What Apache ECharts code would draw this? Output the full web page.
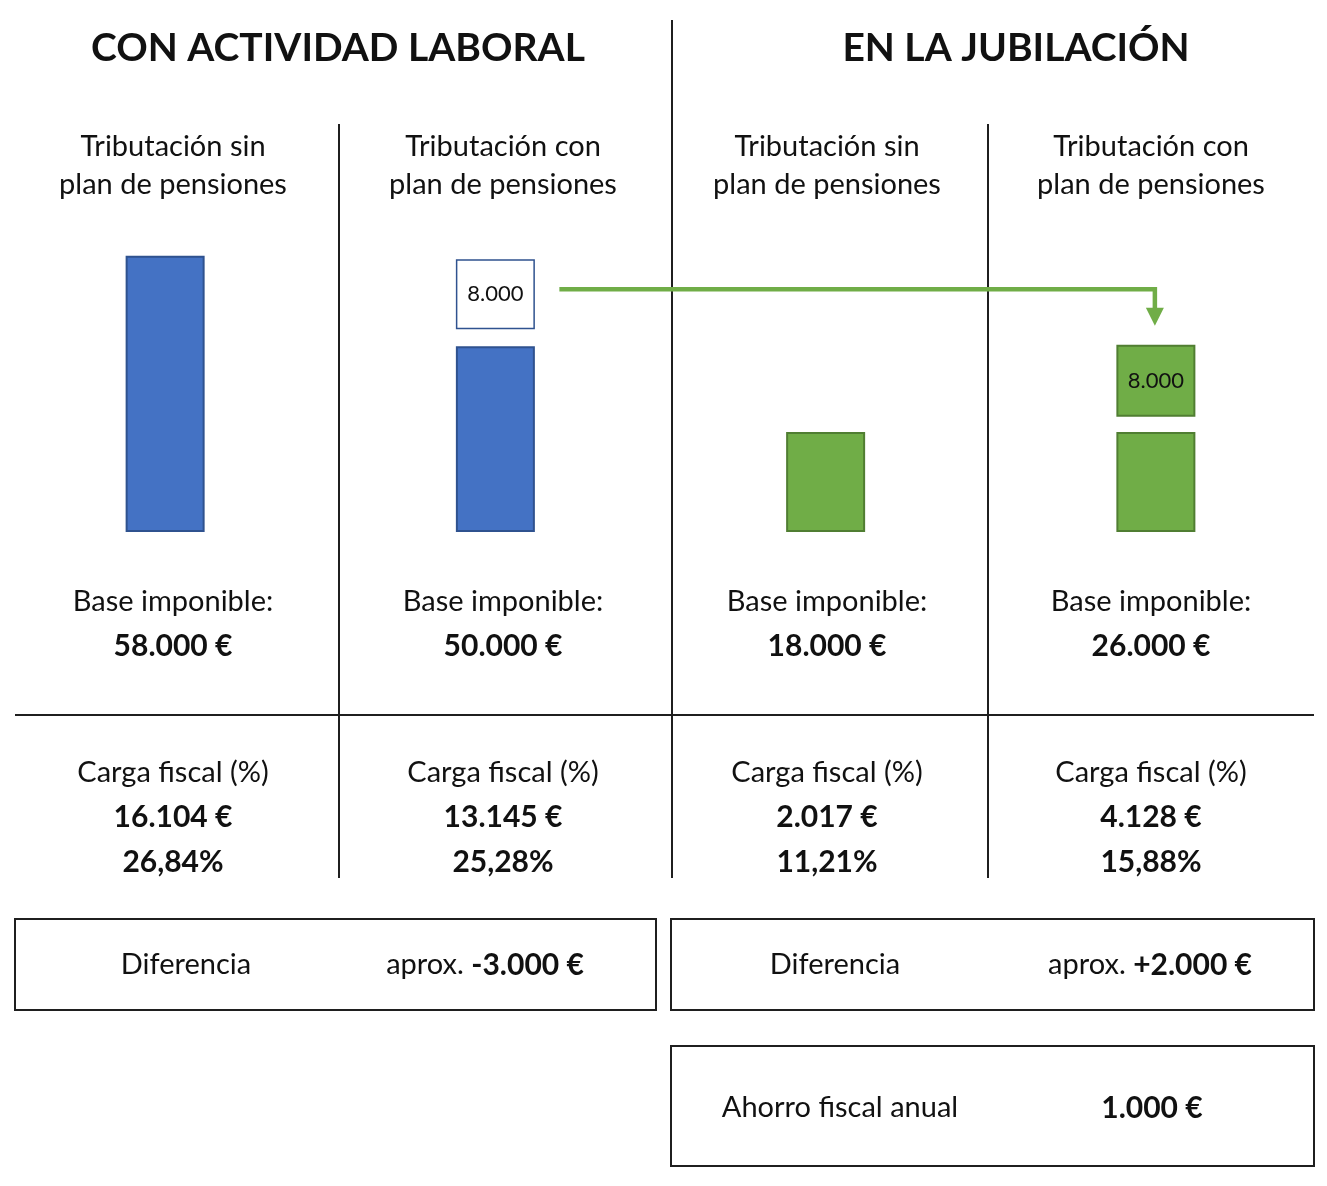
<!DOCTYPE html>
<html lang="es">
<head>
    <meta charset="UTF-8">
    <title>Tributación con y sin plan de pensiones</title>
    <style>
        html, body { margin: 0; padding: 0; background: #ffffff; }
        #main { width: 1327px; height: 1186px; }
    </style>
</head>
<body>
<div id="main"></div>
<script src="https://cdn.jsdelivr.net/npm/echarts@6/dist/echarts.min.js"></script>
<script>
    // datos
    var columnas = ['actividad_sin', 'actividad_con', 'jubilacion_sin', 'jubilacion_con'];
    var titulosColumna = [
        ['Tributación sin', 'plan de pensiones'],
        ['Tributación con', 'plan de pensiones'],
        ['Tributación sin', 'plan de pensiones'],
        ['Tributación con', 'plan de pensiones']
    ];
    var baseImponible = ['58.000 €', '50.000 €', '18.000 €', '26.000 €'];
    var cargaEuros = ['16.104 €', '13.145 €', '2.017 €', '4.128 €'];
    var cargaPct = ['26,84%', '25,28%', '11,21%', '15,88%'];
    var diferencias = ['-3.000 €', '+2.000 €'];
    var ahorroAnual = '1.000 €';
    var aportacionPlan = '8.000';
    // alturas de las barras tal como se ven en el dibujo (unidades relativas)
    var alturaBase = [58, 39, 21, 21];
    var alturaHueco = [0, 3.6, 0, 3.2];
    var alturaPlan = [0, 14.7, 0, 15.1];

    var AZUL = '#4472C4', AZUL_BORDE = '#2F528F';
    var VERDE = '#70AD47', VERDE_BORDE = '#507E32';
    var LINEA = '#1f1f1f';
    var FUENTE = 'Lato, "Noto Sans", sans-serif';
    var T = 29, TB = 30;   // tamaño del texto normal / negrita

    var textoX = [173, 503, 827, 1151];

    function txt(x, y, s, size, bold, align) {
        return {
            type: 'text', silent: true,
            style: {
                text: s, x: x, y: y,
                textAlign: align || 'center', textVerticalAlign: 'middle',
                fontFamily: FUENTE, fontSize: size, fontWeight: bold ? 'bold' : 'normal',
                fill: '#111'
            }
        };
    }
    function linea(x1, y1, x2, y2) {
        return {
            type: 'line', silent: true,
            shape: {x1: x1, y1: y1, x2: x2, y2: y2},
            style: {stroke: LINEA, lineWidth: 2}
        };
    }
    function caja(x, y, w, h) {
        return {
            type: 'rect', silent: true,
            shape: {x: x, y: y, width: w, height: h},
            style: {fill: 'none', stroke: LINEA, lineWidth: 2}
        };
    }

    var colores = [AZUL, AZUL, VERDE, VERDE];
    var bordes = [AZUL_BORDE, AZUL_BORDE, VERDE_BORDE, VERDE_BORDE];

    option = {
        backgroundColor: '#ffffff',
        animation: false,
        grid: {left: 0, right: 6, top: 232, bottom: 654},
        xAxis: {
            type: 'category', data: columnas, show: false
        },
        yAxis: {
            type: 'value', min: 0, max: 63, show: false
        },
        series: [
            {
                name: 'base', type: 'bar', stack: 'total', barWidth: 79,
                data: alturaBase.map(function (v, i) {
                    return {value: v, itemStyle: {color: colores[i], borderColor: bordes[i], borderWidth: 2}};
                })
            },
            {
                name: 'hueco', type: 'bar', stack: 'total', barWidth: 79,
                itemStyle: {color: 'transparent'},
                data: alturaHueco
            },
            {
                name: 'plan', type: 'bar', stack: 'total', barWidth: 79,
                data: alturaPlan.map(function (v, i) {
                    if (!v) return {value: 0, itemStyle: {color: 'transparent'}};
                    var jub = i >= 2;
                    return {
                        value: v,
                        itemStyle: {
                            color: jub ? VERDE : '#ffffff',
                            borderColor: jub ? VERDE_BORDE : AZUL_BORDE,
                            borderWidth: jub ? 2 : 1.5
                        },
                        label: {
                            show: true, position: 'inside', formatter: aportacionPlan,
                            fontFamily: FUENTE, fontSize: 22, color: '#111'
                        }
                    };
                })
            }
        ]
    };

    var myChart = echarts.init(document.getElementById('main'));
    myChart.setOption(option);

    // flecha verde desde la aportación hasta la jubilación
    var pIni = myChart.convertToPixel({xAxisIndex: 0, yAxisIndex: 0},
        [columnas[1], alturaBase[1] + alturaHueco[1] + alturaPlan[1] * 0.57]);
    var pFin = myChart.convertToPixel({xAxisIndex: 0, yAxisIndex: 0},
        [columnas[3], alturaBase[3] + alturaHueco[3] + alturaPlan[3]]);
    var xIni = pIni[0] + 64, yFl = pIni[1];
    var xFin = pFin[0] - 1, yPunta = pFin[1] - 19;

    var g = [];
    g.push(txt(338, 48, 'CON ACTIVIDAD LABORAL', 39, true));
    g.push(txt(1016, 48, 'EN LA JUBILACIÓN', 39, true));
    for (var i = 0; i < 4; i++) {
        g.push(txt(textoX[i], 147, titulosColumna[i][0], T));
        g.push(txt(textoX[i], 185, titulosColumna[i][1], T));
        g.push(txt(textoX[i], 602, 'Base imponible:', T));
        g.push(txt(textoX[i], 646, baseImponible[i], TB, true));
        g.push(txt(textoX[i], 773, 'Carga fiscal (%)', T));
        g.push(txt(textoX[i], 817, cargaEuros[i], TB, true));
        g.push(txt(textoX[i], 862, cargaPct[i], TB, true));
    }
    g.push(linea(672, 20, 672, 878));
    g.push(linea(339, 124, 339, 878));
    g.push(linea(988, 124, 988, 878));
    g.push(linea(15, 715, 1314, 715));

    g.push(caja(15, 919, 641, 91));
    g.push(caja(671, 919, 643, 91));
    g.push(caja(671, 1046, 643, 120));

    var ricoDif = function (x, valor) {
        return {
            type: 'text', silent: true,
            style: {
                text: '{n|aprox. }{b|' + valor + '}', x: x, y: 965,
                textAlign: 'center', textVerticalAlign: 'middle',
                rich: {
                    n: {fontFamily: FUENTE, fontSize: T, fill: '#111', color: '#111'},
                    b: {fontFamily: FUENTE, fontSize: TB, fontWeight: 'bold', fill: '#111', color: '#111'}
                }
            }
        };
    };
    g.push(txt(186, 965, 'Diferencia', T));
    g.push(ricoDif(485, diferencias[0]));
    g.push(txt(835, 965, 'Diferencia', T));
    g.push(ricoDif(1150, diferencias[1]));
    g.push(txt(840, 1108, 'Ahorro fiscal anual', T));
    g.push(txt(1152, 1108, ahorroAnual, TB, true));

    g.push({
        type: 'polyline', silent: true,
        shape: {points: [[xIni, yFl], [xFin, yFl], [xFin, yPunta - 16]]},
        style: {stroke: VERDE, lineWidth: 4.5, fill: 'none', lineJoin: 'miter'}
    });
    g.push({
        type: 'polygon', silent: true,
        shape: {points: [[xFin - 9, yPunta - 18], [xFin + 9, yPunta - 18], [xFin, yPunta]]},
        style: {fill: VERDE}
    });

    myChart.setOption({graphic: {elements: g}});
</script>
</body>
</html>
